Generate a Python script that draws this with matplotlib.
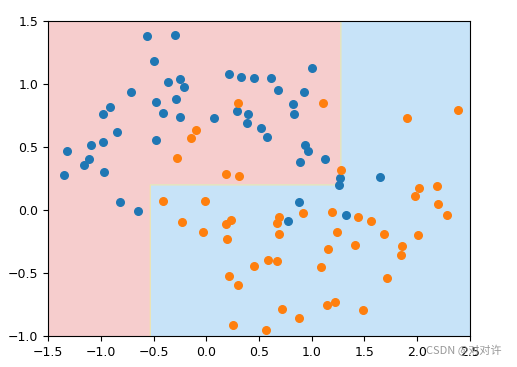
import numpy as np
import matplotlib
matplotlib.use("Agg")
import matplotlib.pyplot as plt
from matplotlib.colors import ListedColormap

##クラス0 (青)
x0 = [-0.562, -0.296, -0.495, -0.365, -0.252, -0.211, -0.287, -0.479, -0.413, -0.252,
      -0.716, -0.915, -0.982, -0.843, -1.095, -0.982, -1.317, -1.108, -1.159, -0.969,
      -1.345, -0.473, 0.216, 0.326, 0.45, 0.611, 0.683, 1.005, 0.927, 0.822,
      0.829, 0.291, 0.393, 0.386, 0.077, 0.522, 0.573, 0.939, 0.964, 0.885,
      1.126, 1.271, 1.255, 1.65, -0.815, -0.65, 0.882, 0.772, 1.325]
y0 = [1.379, 1.387, 1.183, 1.013, 1.042, 0.974, 0.879, 0.857, 0.772, 0.738,
      0.934, 0.820, 0.764, 0.617, 0.513, 0.542, 0.468, 0.407, 0.357, 0.304,
      0.275, 0.556, 1.082, 1.056, 1.05, 1.05, 0.955, 1.124, 0.934, 0.844,
      0.759, 0.786, 0.765, 0.690, 0.730, 0.651, 0.582, 0.516, 0.466, 0.379,
      0.402, 0.257, 0.196, 0.264, 0.061, -0.008, 0.061, -0.087, -0.040]

##クラス1 (橙)
x1 = [-0.094, -0.148, -0.28, 0.298, 1.104, 0.184, 0.31, 1.28, 1.9, 2.386,
      -0.407, -0.23, -0.012, -0.028, 0.19, 0.237, 0.2, 0.686, 0.667, 0.69,
      0.917, 1.192, 1.239, 1.151, 1.085, 0.588, 0.667, 0.45, 0.216, 0.304,
      0.715, 0.876, 1.142, 1.217, 0.254, 0.569, 1.441, 1.562, 1.41, 1.682,
      1.976, 2.02, 2.184, 2.2, 2.279, 2.007, 1.853, 1.843, 1.71, 1.483]
y1 = [0.637, 0.569, 0.413, 0.852, 0.852, 0.286, 0.270, 0.32, 0.730, 0.791,
      0.069, -0.095, 0.074, -0.175, -0.111, -0.082, -0.230, -0.053, -0.101, -0.188,
      -0.026, -0.013, -0.175, -0.312, -0.452, -0.397, -0.402, -0.442, -0.521, -0.595,
      -0.788, -0.857, -0.752, -0.730, -0.910, -0.955, -0.053, -0.087, -0.275, -0.188,
      0.109, 0.177, 0.190, 0.048, -0.040, -0.196, -0.286, -0.360, -0.540, -0.796]

##決定木のしきい値
split_x_left = -0.53
split_y = 0.2
split_x_right = 1.275
x_range = (-1.5, 2.5)
y_range = (-1.0, 1.5)


def predict(xx, yy):
    return np.where((xx < split_x_left) | ((yy > split_y) & (xx < split_x_right)), 0, 1)


def plot():
    fig = plt.figure(figsize=(5.17, 3.67), dpi=100)
    ax = fig.add_axes([0.093, 0.084, 0.816, 0.859])
    xx, yy = np.meshgrid(np.linspace(x_range[0], x_range[1], 800),
                         np.linspace(y_range[0], y_range[1], 800))
    zz = predict(xx, yy)
    cmap = ListedColormap(["#f6cdcd", "#c7e3f8"])
    ax.contourf(xx, yy, zz, levels=[-0.5, 0.5, 1.5], cmap=cmap)
    ax.contour(xx, yy, zz, levels=[0.5], colors="#f3e3a8", linewidths=0.8)
    ax.scatter(x0, y0, s=30, color="#1f77b4", zorder=3)
    ax.scatter(x1, y1, s=30, color="#ff7f0e", zorder=3)
    ax.set_xlim(*x_range)
    ax.set_ylim(*y_range)
    ax.set_xticks(np.arange(-1.5, 2.51, 0.5))
    ax.set_yticks(np.arange(-1.0, 1.51, 0.5))
    ax.tick_params(labelsize=9)
    fig.text(0.970, 0.030, "CSDN @对对许", ha="right", va="bottom", fontsize=8,
             color="#999999", family=["Noto Sans CJK SC", "DejaVu Sans"])
    fig.savefig("out.png", dpi=100)


if __name__ == "__main__":
    plot()
